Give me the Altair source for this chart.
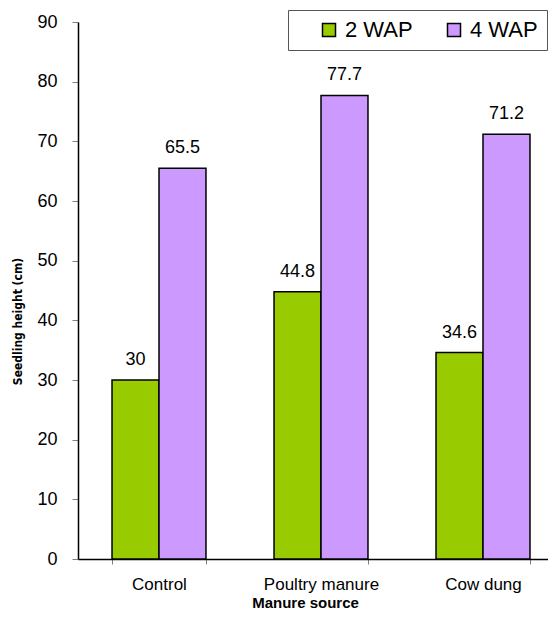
import altair as alt
import pandas as pd

categories = ["Control", "Poultry manure", "Cow dung"]
series = ["2 WAP", "4 WAP"]
wap2 = [30, 44.8, 34.6]
wap4 = [65.5, 77.7, 71.2]
colors = ["#99CC00", "#CC99FF"]
y_ticks = [0, 10, 20, 30, 40, 50, 60, 70, 80, 90]

rows = []
for c, a, b in zip(categories, wap2, wap4):
    rows.append({"source": c, "series": series[0], "height": a})
    rows.append({"source": c, "series": series[1], "height": b})
df = pd.DataFrame(rows)

FONT = "Liberation Sans, Arial, Helvetica, sans-serif"

x = alt.X(
    "source:N",
    sort=categories,
    scale=alt.Scale(range=[0, 486], paddingInner=0.42, paddingOuter=0.21),
    axis=alt.Axis(
        title="Manure source",
        labelAngle=0,
        labelFont=FONT,
        labelFontSize=17,
        labelColor="black",
        labelPadding=12,
        tickBand="extent",
        tickSize=5,
        tickColor="#808080",
        domainColor="black",
        domainWidth=1.5,
        titleFont=FONT,
        titleFontSize=15,
        titleFontWeight="bold",
        titleColor="black",
        titleX=227,
        titleY=48,
        titleBaseline="alphabetic",
        titleAnchor="start",
        titleAlign="center",
    ),
)
xo = alt.XOffset("series:N", sort=series, scale=alt.Scale(paddingInner=0, paddingOuter=0))
y = alt.Y(
    "height:Q",
    scale=alt.Scale(domain=[0, 90], nice=False),
    axis=alt.Axis(
        title="Seedling height (cm)",
        values=y_ticks,
        labelFont=FONT,
        labelFontSize=18,
        labelColor="black",
        labelPadding=15,
        tickSize=6,
        tickColor="#808080",
        domainColor="black",
        domainWidth=1.5,
        titleFont="Liberation Sans Narrow, Arial Narrow, DejaVu Sans Condensed, Liberation Sans, Arial",
        titleFontSize=12,
        titleFontWeight="bold",
        titleColor="black",
        titleX=-61,
        titleY=299,
        titleAngle=270,
        titleBaseline="middle",
        titleAlign="center",
    ),
)

color = alt.Color(
    "series:N",
    sort=series,
    scale=alt.Scale(domain=series, range=colors),
    legend=alt.Legend(
        title=None,
        orient="none",
        legendX=210,
        legendY=-12,
        direction="horizontal",
        symbolType="square",
        symbolSize=169,
        symbolStrokeColor="black",
        symbolStrokeWidth=1.5,
        symbolOpacity=1,
        symbolOffset=21,
        labelFont=FONT,
        labelFontSize=22,
        labelColor="black",
        labelOffset=5,
        columnPadding=9,
        padding=9,
        strokeColor="#555555",
        fillColor="white",
    ),
)

bars = alt.Chart(df).mark_bar(stroke="black", strokeWidth=1.5, opacity=1).encode(
    x=x, xOffset=xo, y=y, color=color
)
labels = alt.Chart(df).mark_text(
    baseline="alphabetic", dy=-15, fontSize=18, font=FONT, color="black"
).encode(x=x, xOffset=xo, y=y, text=alt.Text("height:Q"))

chart = (
    alt.layer(bars, labels)
    .properties(
        width=470,
        height=537,
        autosize=alt.AutoSizeParams(type="none"),
        padding={"left": 70, "top": 14, "right": 0, "bottom": 52},
    )
    .configure_view(stroke=None)
    .configure_axis(grid=False)
)

chart.save("out.html", embed_options={"renderer": "svg", "actions": False})
